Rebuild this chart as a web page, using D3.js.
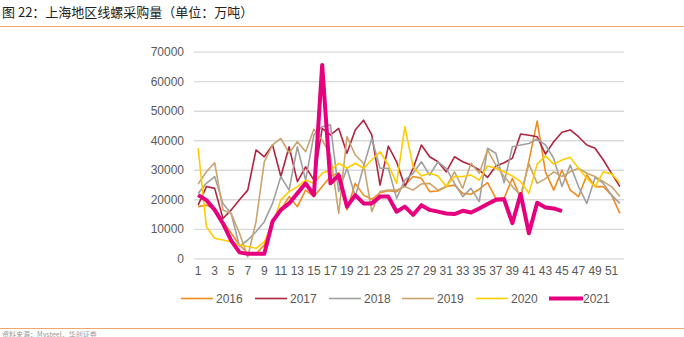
<!DOCTYPE html>
<html><head><meta charset="utf-8">
<script src="https://cdn.jsdelivr.net/npm/d3@7"></script>
<style>body{margin:0;background:#fff;}svg{display:block;font-family:"Noto Sans CJK SC","Liberation Sans",Arial,sans-serif;}</style>
</head><body><svg id="c" width="684" height="337"></svg>
<script>
const weeks = d3.range(1, 53);
const tickLabels = d3.range(1, 53, 2);
const yTicks = [0,10000,20000,30000,40000,50000,60000,70000];
const seriesNames = ["2016","2017","2018","2019","2020","2021"];
const colors = ["#f08c1e","#b0243f","#a0a0a0","#c9a46e","#ffcc00","#e6007e"];

const s2016 = [17500,18000,16900,12500,8500,4500,1700,1500,4500,13000,16400,20900,17500,23100,20900,24300,27700,29000,16400,25400,21400,20000,22200,22900,22600,24800,27700,27100,22600,22800,24300,24800,22000,21700,23400,25600,20300,20300,27100,20300,33000,46500,29300,23100,29900,23100,20900,28200,24300,24300,21400,15200];
const s2017 = [18000,24300,23700,13500,16400,19800,23100,36700,34400,38400,27700,37800,26000,31000,26500,44000,41800,44000,35600,43500,46800,41800,24800,38000,32700,24300,30500,38400,34400,32700,29300,34400,32700,31600,29900,27400,31300,32400,33900,42100,41700,41200,35300,39500,42700,43500,41200,38400,37300,33300,28800,24300];
const s2018 = [22000,25400,27700,18600,15200,4000,6200,9000,12400,18600,27700,23100,37800,26500,41800,44600,45200,22600,30500,20900,31000,40600,30500,30500,20300,26500,28800,32700,28200,32700,30500,25400,20900,23700,19200,37300,35600,25600,37800,38400,38900,40400,38400,33900,24300,31600,24300,18600,27400,25400,21400,18600];
const s2019 = [25200,29300,32400,16400,15200,8500,500,12400,32700,38400,40600,35600,39500,36100,43700,40100,35000,15200,41200,35000,32200,15800,22600,23100,23100,24300,23100,25200,25400,23100,24300,29300,23700,32200,28800,36700,31600,27700,24300,21500,32000,25400,27000,29300,27700,29300,30500,28800,27700,26000,24300,20900];
const s2020 = [37300,10700,6800,6200,5600,4500,4000,3400,5600,11300,19800,22600,24300,26500,25400,28800,29900,32200,30500,32200,30500,33300,36100,31600,25400,44600,31000,27900,28800,27900,24300,27700,27700,28200,26500,31300,30500,29300,27900,26000,22000,31900,34700,31900,33300,34200,30500,27100,24300,29300,28600,25600];
const s2021 = [21400,19700,16400,11800,6000,2000,1500,1500,1500,12500,16400,18600,22000,25400,21400,65500,25400,28200,17500,21400,18600,18600,20900,20900,15800,17500,14700,18000,16400,15800,15200,15000,16100,15500,16900,18400,19800,20000,11900,21800,8500,18800,17200,16900,16000];
const allSeries = [s2016,s2017,s2018,s2019,s2020,s2021];

const svg = d3.select("#c");
const x = d3.scaleBand().domain(weeks).range([194, 624]);
const y = d3.scaleLinear().domain([0,70000]).range([258.3, 51.7]);

// title
svg.append("text").attr("x",2).attr("y",17).attr("font-size",13).attr("fill","#222").text("图 22：上海地区线螺采购量（单位：万吨）");
svg.append("line").attr("x1",0).attr("x2",684).attr("y1",26.5).attr("y2",26.5).attr("stroke","#f2a66a").attr("stroke-width",1.2);
svg.append("line").attr("x1",0).attr("x2",684).attr("y1",328.5).attr("y2",328.5).attr("stroke","#f2a66a").attr("stroke-width",1.2);
svg.append("text").attr("x",2).attr("y",336.5).attr("font-size",7).attr("fill","#999").text("资料来源：Mysteel，华创证券");

// grid
const yAxis = d3.axisLeft(y).tickValues(yTicks).tickSize(-(624-194)).tickFormat(d3.format("d"));
const gy = svg.append("g").attr("transform","translate(194,0)").call(yAxis);
gy.select(".domain").remove();
gy.selectAll(".tick line").attr("stroke","#d9d9d9").attr("stroke-width",1.3);
gy.selectAll(".tick text").attr("x",-10).attr("fill","#595959").attr("font-size",12).attr("font-family","Liberation Sans, Arial, sans-serif");

const xAxis = d3.axisBottom(x).tickValues(tickLabels).tickSize(0).tickPadding(8);
const gx = svg.append("g").attr("transform","translate(0,258.3)").call(xAxis);
gx.select(".domain").remove();
gx.selectAll(".tick text").attr("fill","#595959").attr("font-size",12).attr("font-family","Liberation Sans, Arial, sans-serif");

const line = d3.line().x((d,i)=>x(weeks[i])+x.bandwidth()/2).y(d=>y(d));
allSeries.forEach((s,k)=>{
  svg.append("path").datum(s).attr("fill","none").attr("stroke",colors[k])
    .attr("stroke-width", k===5?4:1.6).attr("stroke-linejoin","round").attr("d",line);
});

// legend
const legX = [181,255,329,402,476,549];
const lg = svg.append("g");
seriesNames.forEach((n,k)=>{
  lg.append("line").attr("x1",legX[k]).attr("x2",legX[k]+ (k===5?34:32)).attr("y1",298.5).attr("y2",298.5)
    .attr("stroke",colors[k]).attr("stroke-width",k===5?4:1.6);
  lg.append("text").attr("x",legX[k]+(k===5?34:35)).attr("y",303).attr("font-size",12).attr("fill","#595959")
    .attr("font-family","Liberation Sans, Arial, sans-serif").text(n);
});
</script></body></html>
